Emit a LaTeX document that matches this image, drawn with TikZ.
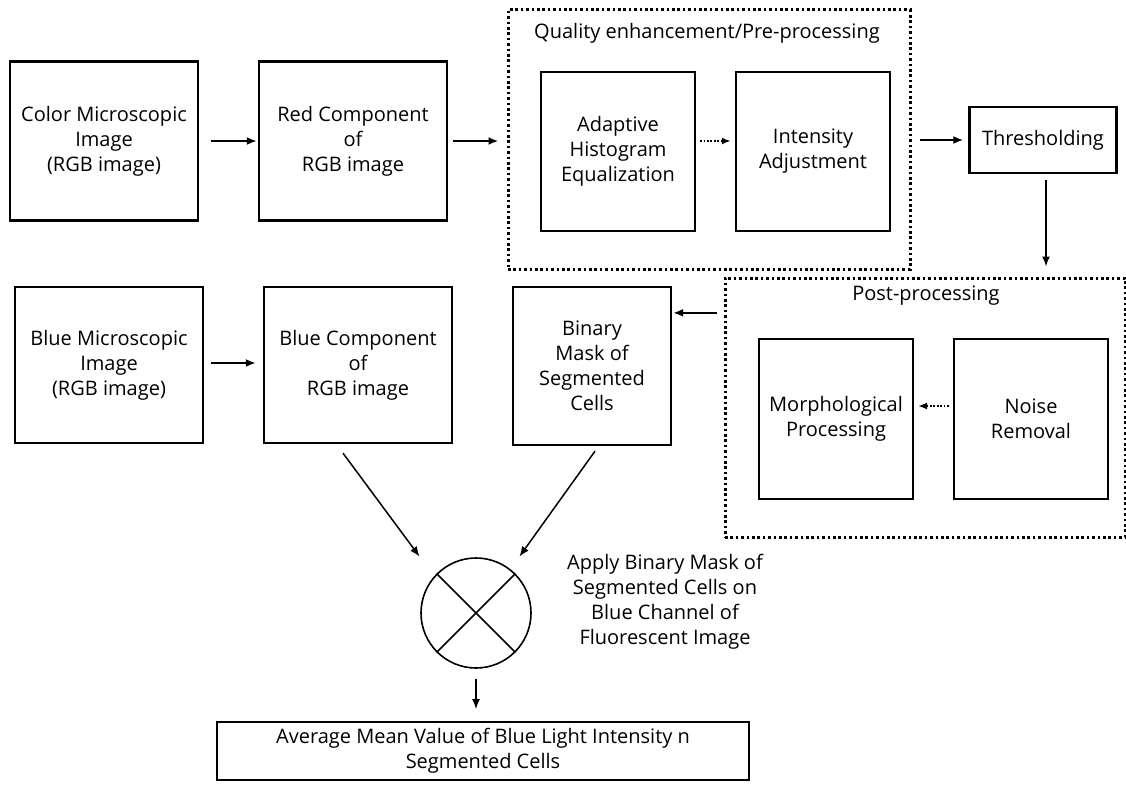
\documentclass[tikz,border=0pt]{standalone}
\usepackage{fontspec}
\setmainfont{Open Sans}
\usetikzlibrary{arrows.meta}

\begin{document}
\begin{tikzpicture}[x=1pt,y=-1pt,
    font=\fontsize{20}{25}\selectfont,
    blk/.style={draw,line width=2.3pt,align=center,inner sep=0pt},
    dotbox/.style={draw,line width=3pt,dash pattern=on 2.6pt off 2.8pt},
    arr/.style={-{Latex[length=10pt,width=8pt]},line width=2pt},
    thinarr/.style={-{Latex[length=10pt,width=8pt]},line width=1.5pt},
    dotarr/.style={-{Latex[length=9pt,width=7pt]},line width=2pt,dash pattern=on 1.8pt off 1.6pt}]
    \useasboundingbox (0,0) rectangle (1126,789);

    % top row
    \node[blk,minimum width=188,minimum height=159] (color) at (104,141)
      {Color Microscopic\\Image\\(RGB image)};
    \node[blk,minimum width=188,minimum height=159] (red) at (353,141)
      {Red Component\\of\\RGB image};

    \node[dotbox,minimum width=402,minimum height=259] (pre) at (709,139.5) {};
    \node (pretitle) at (707,33) {Quality enhancement/Pre-processing};
    \node[blk,minimum width=154,minimum height=159] (adapt) at (618,151.5)
      {Adaptive\\Histogram\\Equalization};
    \node[blk,minimum width=154,minimum height=159] (intens) at (813,151.5)
      {Intensity\\Adjustment};

    \node[blk,minimum width=147,minimum height=66] (thresh) at (1043,140)
      {Thresholding};

    % second row
    \node[dotbox,minimum width=400,minimum height=259] (post) at (925,407.5) {};
    \node (posttitle) at (926,296) {Post-processing};
    \node[blk,minimum width=154,minimum height=160] (morph) at (836,419)
      {Morphological\\Processing};
    \node[blk,minimum width=154,minimum height=160] (noise) at (1031,419)
      {Noise\\Removal};

    \node[blk,minimum width=188,minimum height=156] (bluemic) at (109,365)
      {Blue Microscopic\\Image\\(RGB image)};
    \node[blk,minimum width=188,minimum height=156] (bluecomp) at (358,365)
      {Blue Component\\of\\RGB image};
    \node[blk,minimum width=158,minimum height=158] (binary) at (592,366)
      {Binary\\Mask of\\Segmented\\Cells};

    % mask and result
    \node[draw,circle,line width=1.6pt,minimum size=110,inner sep=0pt] (mult) at (476,613) {};
    \draw[line width=1.6pt] (mult.north west) -- (mult.south east);
    \draw[line width=1.6pt] (mult.north east) -- (mult.south west);
    \node[align=center] (apply) at (665,602)
      {Apply Binary Mask of\\Segmented Cells on\\Blue Channel of\\Fluorescent Image};
    \node[blk,line width=1.8pt,minimum width=532,minimum height=58] (result) at (483,751)
      {Average Mean Value of Blue Light Intensity n\\Segmented Cells};

    % connections
    \draw[arr,shorten <=12pt,shorten >=1pt] (color) -- (red);
    \draw[arr,shorten <=5pt,shorten >=8pt] (red) -- (red-|pre.west);
    \draw[dotarr,shorten <=4pt,shorten >=4pt] (adapt.east|-red) -- (intens.west|-red);
    \draw[arr,shorten <=8pt,shorten >=5pt] (pre.east|-thresh) -- (thresh);
    \draw[thinarr,shorten <=6pt,shorten >=10pt] ([xshift=3pt]thresh.south) -- ([xshift=3pt]thresh.south|-post.north);
    \draw[arr,shorten <=7pt,shorten >=1pt] (post.west|-binary.north east) ++(0,27) coordinate (postin) -- (postin-|binary.east);
    \draw[dotarr,line width=1.5pt,shorten <=4pt,shorten >=4pt] (noise.west|-mult.center) ++(0,-207) coordinate (noisein) -- (noisein-|morph.east);
    \draw[arr,shorten <=7pt,shorten >=7pt] (bluemic.east|-bluecomp) ++(0,-2) coordinate (bmout) -- (bmout-|bluecomp.west);
    \draw[thinarr] ([xshift=-15pt,yshift=-9pt]bluecomp.south) -- ([xshift=-17pt,yshift=17pt]mult.north west);
    \draw[thinarr] ([xshift=3pt,yshift=-5pt]binary.south) -- ([xshift=4pt,yshift=17pt]mult.north east);
    \draw[thinarr,shorten <=10pt,shorten >=12pt] (mult.south) -- (mult.south|-result.north);
\end{tikzpicture}
\end{document}
